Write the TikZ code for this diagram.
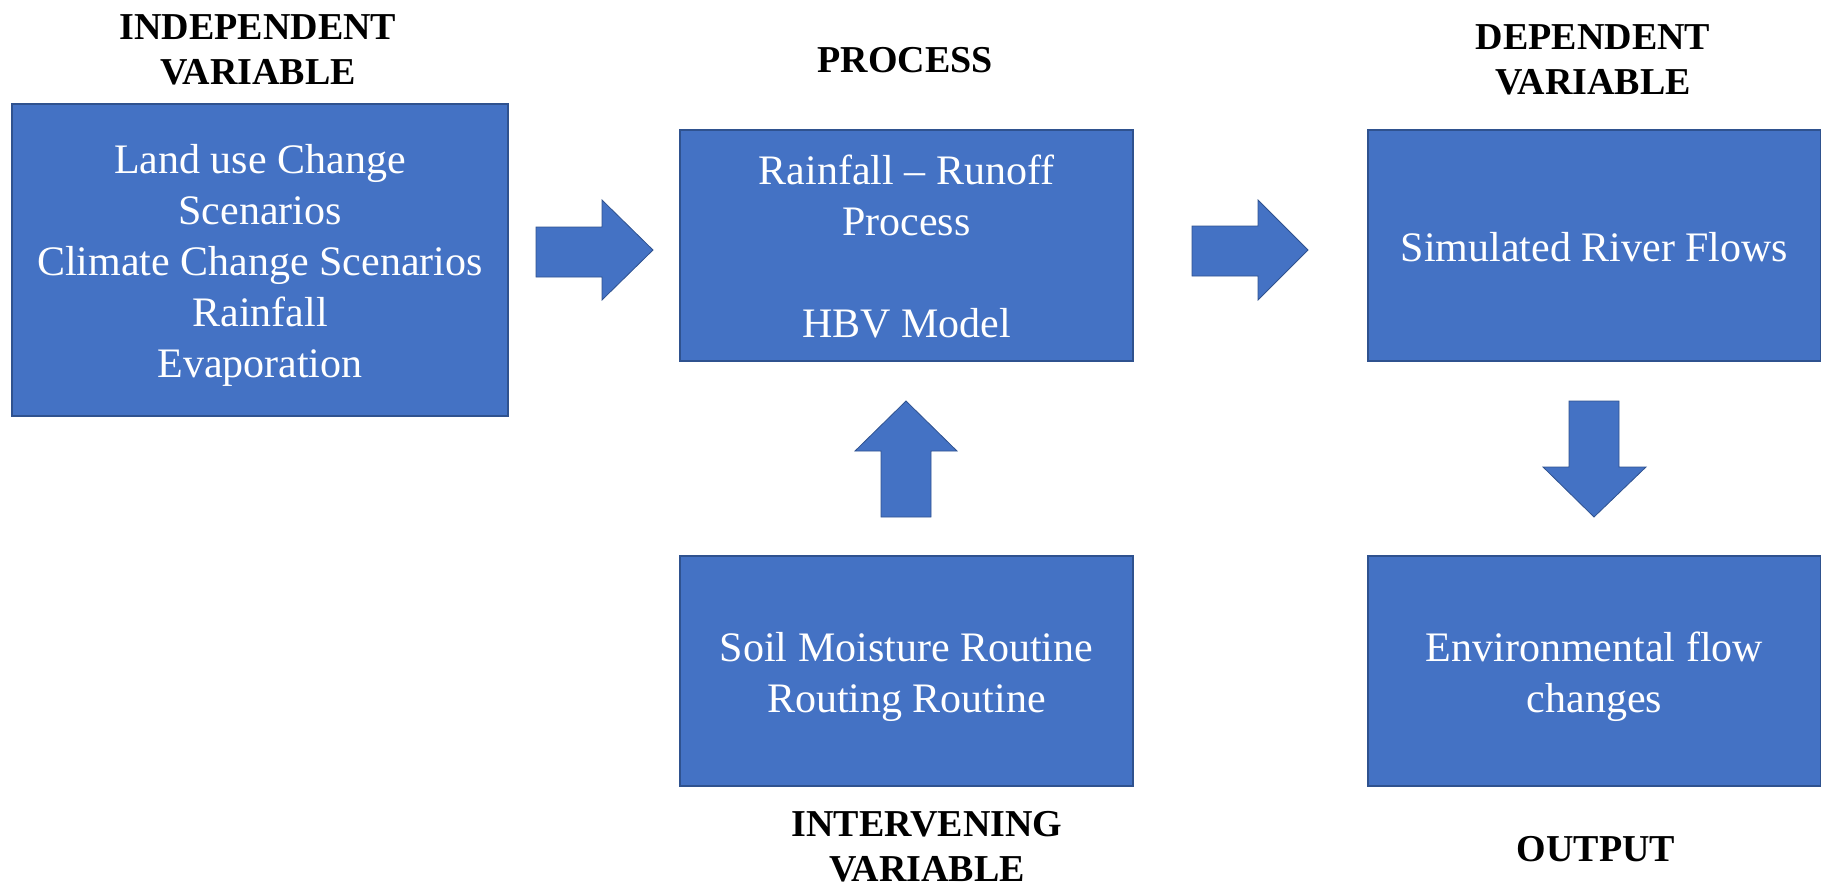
\documentclass[tikz,border=0pt]{standalone}
\usepackage{fontspec}
\setmainfont{Liberation Serif}
\definecolor{boxblue}{HTML}{4472C4}
\definecolor{boxedge}{HTML}{2F528F}
\begin{document}
\begin{tikzpicture}[x=1pt,y=-1pt,
  box/.style={rectangle, fill=boxblue, draw=boxedge, line width=1.2pt,
    inner sep=0pt},
  boxtext/.style={inner sep=0pt, text=white, align=center,
    font=\fontsize{42}{51}\selectfont},
  heading/.style={align=center, inner sep=0pt, text=black,
    font=\fontsize{38}{45}\selectfont\bfseries},
  blockarrow/.style={fill=boxblue, draw=boxedge, line width=0.8pt, line join=miter}]
\useasboundingbox (0,0) rectangle (1821,887);

% boxes
\node[box, minimum width=496pt, minimum height=312pt] (indep) at (260,260) {};
\node[box, minimum width=453pt, minimum height=231pt] (proc) at (906.5,245.5) {};
\node[box, minimum width=453pt, minimum height=231pt] (dep) at (1594.5,245.5) {};
\node[box, minimum width=453pt, minimum height=230pt] (interv) at (906.5,671) {};
\node[box, minimum width=453pt, minimum height=230pt] (outp) at (1594.5,671) {};

% box contents
\node[boxtext] (indeptext) at ([yshift=-5pt]indep.center)
  {Land use Change\\Scenarios\\Climate Change Scenarios\\Rainfall\\Evaporation};
\node[boxtext] (proctext) at ([yshift=-1.5pt]proc.center)
  {Rainfall -- Runoff\\Process\\[51pt]HBV Model};
\node[boxtext] (deptext) at ([yshift=-2pt]dep.center) {Simulated River Flows};
\node[boxtext] (intervtext) at ([yshift=-6pt]interv.center)
  {Soil Moisture Routine\\Routing Routine};
\node[boxtext] (outptext) at ([yshift=-6pt]outp.center)
  {Environmental flow\\changes};

% headings
\node[heading] (hindep) at (258,50) {INDEPENDENT\\VARIABLE};
\node[heading] (hproc) at (905,60) {PROCESS};
\node[heading] (hdep) at (1593,60) {DEPENDENT\\VARIABLE};
\node[heading] (hinterv) at (927,847) {INTERVENING\\VARIABLE};
\node[heading] (houtp) at (1596,849) {OUTPUT};

% block arrows
\draw[blockarrow] (536,227) -- (602,227) -- (602,200) -- (653,250)
  -- (602,300) -- (602,277) -- (536,277) -- cycle;
\draw[blockarrow] (1192,226) -- (1258,226) -- (1258,200) -- (1308,250)
  -- (1258,300) -- (1258,276) -- (1192,276) -- cycle;
\draw[blockarrow] (881,517) -- (881,451) -- (855,451) -- (906,401)
  -- (957,451) -- (931,451) -- (931,517) -- cycle;
\draw[blockarrow] (1569,401) -- (1619,401) -- (1619,467) -- (1646,467)
  -- (1594,517) -- (1543,467) -- (1569,467) -- cycle;
\end{tikzpicture}
\end{document}
